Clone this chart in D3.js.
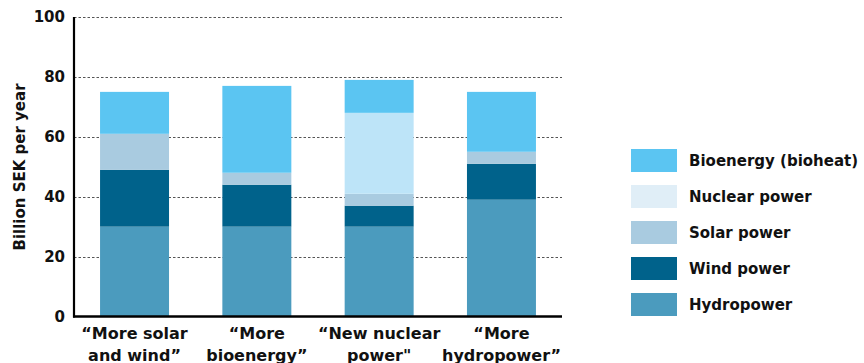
<!DOCTYPE html>
<html>
<head>
<meta charset="utf-8">
<script src="https://cdn.jsdelivr.net/npm/d3@7"></script>
<style>
  html, body { margin: 0; padding: 0; background: #fff; }
  svg { display: block; font-family: "DejaVu Sans", sans-serif; font-weight: bold; }
</style>
</head>
<body>
<svg id="chart" width="864" height="363"></svg>
<script>
// Scenario categories (two-line labels)
const categories = ["solarwind", "bio", "nuclear", "hydro"];
const categoryLabels = [
  ["\u201CMore solar", "and wind\u201D"],
  ["\u201CMore", "bioenergy\u201D"],
  ["\u201CNew nuclear", "power\""],
  ["\u201CMore", "hydropower\u201D"]
];

// Series values, billion SEK per year (stacked bottom to top)
const hydropower = [30, 30, 30, 39];
const windPower  = [19, 14, 7, 12];
const solarPower = [12, 4, 4, 4];
const nuclearPower = [0, 0, 27, 0];
const bioenergy  = [14, 29, 11, 20];

const seriesNames = ["Hydropower", "Wind power", "Solar power", "Nuclear power", "Bioenergy (bioheat)"];
const seriesValues = [hydropower, windPower, solarPower, nuclearPower, bioenergy];
const seriesColors = ["#4b9bbe", "#00628b", "#a9cbe0", "#bde4f8", "#5bc5f2"];
const legendColors = ["#4b9bbe", "#00628b", "#a9cbe0", "#e0eef7", "#5bc5f2"];

const yTicks = [0, 20, 40, 60, 80, 100];
const yTitle = "Billion SEK per year";

(function draw() {
  const svg = d3.select("#chart");
  const plotLeft = 74, plotRight = 562, plotTop = 17, plotBottom = 316.5;

  const x = d3.scaleBand().domain(categories).range([plotLeft, plotRight])
    .paddingInner(0.436).paddingOuter(0.213);
  const y = d3.scaleLinear().domain([0, 100]).range([plotBottom, plotTop]);

  // Dotted gridlines
  svg.append("g").selectAll("line").data(yTicks.filter(d => d > 0)).join("line")
    .attr("x1", plotLeft).attr("x2", plotRight)
    .attr("y1", d => Math.round(y(d)) + 0.5).attr("y2", d => Math.round(y(d)) + 0.5)
    .attr("stroke", "#555").attr("stroke-width", 1.2).attr("stroke-dasharray", "2.5,2");

  // Stacked bars
  const rows = categories.map((c, i) => {
    const r = { cat: c };
    seriesNames.forEach((s, j) => r[s] = seriesValues[j][i]);
    return r;
  });
  const stack = d3.stack().keys(seriesNames)(rows);
  svg.append("g").selectAll("g").data(stack).join("g")
    .attr("fill", (d, i) => seriesColors[i])
    .selectAll("rect").data(d => d).join("rect")
    .attr("x", d => x(d.data.cat))
    .attr("width", x.bandwidth())
    .attr("y", d => y(d[1]))
    .attr("height", d => y(d[0]) - y(d[1]));

  // Axis lines
  svg.append("line").attr("x1", plotLeft).attr("x2", plotLeft).attr("y1", plotTop).attr("y2", plotBottom + 1)
    .attr("stroke", "#000").attr("stroke-width", 2.2);
  svg.append("line").attr("x1", plotLeft - 1).attr("x2", plotRight).attr("y1", plotBottom).attr("y2", plotBottom)
    .attr("stroke", "#000").attr("stroke-width", 2.6);

  // Y tick labels
  svg.append("g").selectAll("text").data(yTicks).join("text")
    .attr("x", 65).attr("y", d => y(d))
    .attr("dy", "0.36em").attr("text-anchor", "end")
    .attr("font-size", 15).attr("fill", "#111")
    .text(d => d);

  // Y axis title
  svg.append("text")
    .attr("transform", "translate(25,167) rotate(-90)")
    .attr("text-anchor", "middle").attr("font-size", 15).attr("fill", "#111")
    .text(yTitle);

  // Category labels
  const xl = svg.append("g").selectAll("text").data(categories).join("text")
    .attr("text-anchor", "middle").attr("font-size", 16).attr("fill", "#111")
    .attr("x", d => x(d) + x.bandwidth() / 2);
  xl.selectAll("tspan").data((d, i) => categoryLabels[i]).join("tspan")
    .attr("x", function () { return d3.select(this.parentNode).attr("x"); })
    .attr("y", (d, i) => 339 + i * 22)
    .text(d => d);

  // Legend (top to bottom: bioenergy ... hydropower)
  const legendOrder = [4, 3, 2, 1, 0];
  const lg = svg.append("g").selectAll("g").data(legendOrder).join("g")
    .attr("transform", (d, i) => `translate(631,${149 + i * 36})`);
  lg.append("rect").attr("width", 46).attr("height", 23).attr("fill", d => legendColors[d]);
  lg.append("text").attr("x", 58).attr("y", 11.5).attr("dy", "0.36em")
    .attr("font-size", 15).attr("fill", "#111")
    .text(d => seriesNames[d]);
})();
</script>
</body>
</html>
